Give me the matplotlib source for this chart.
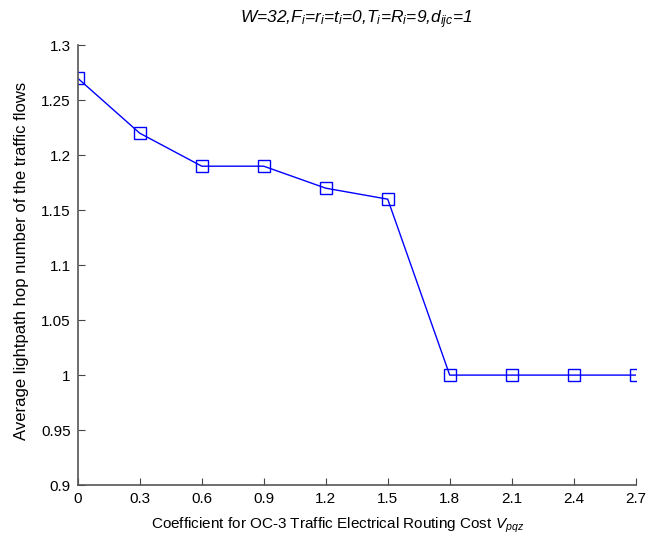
import matplotlib
matplotlib.use("Agg")
import matplotlib.pyplot as plt

x = [0, 0.3, 0.6, 0.9, 1.2, 1.5, 1.8, 2.1, 2.4, 2.7]
y = [1.27, 1.22, 1.19, 1.19, 1.17, 1.16, 1.0, 1.0, 1.0, 1.0]
xticks = [0, 0.3, 0.6, 0.9, 1.2, 1.5, 1.8, 2.1, 2.4, 2.7]
xtick_labels = ["0", "0.3", "0.6", "0.9", "1.2", "1.5", "1.8", "2.1", "2.4", "2.7"]
yticks = [0.9, 0.95, 1.0, 1.05, 1.1, 1.15, 1.2, 1.25, 1.3]
ytick_labels = ["0.9", "0.95", "1", "1.05", "1.1", "1.15", "1.2", "1.25", "1.3"]

plt.rcParams['font.family'] = ['Liberation Sans', 'DejaVu Sans']
plt.rcParams['mathtext.fontset'] = 'custom'
plt.rcParams['mathtext.it'] = 'Liberation Sans:italic'
plt.rcParams['mathtext.rm'] = 'Liberation Sans'

fig = plt.figure(figsize=(6.48, 5.45), dpi=100)
ax = fig.add_axes([0.120, 0.110, 0.861, 0.807])
ax.plot(x, y, color='#0000ff', lw=1.0, marker='s', markersize=8,
        markerfacecolor='none', markeredgecolor='#0000ff', markeredgewidth=1.0)
ax.set_xlim(0, 2.7)
ax.set_ylim(0.9, 1.3)
ax.set_xticks(xticks)
ax.set_xticklabels(xtick_labels)
ax.set_yticks(yticks)
ax.set_yticklabels(ytick_labels)
ax.tick_params(direction='in', length=5, labelsize=11, pad=5, color='#444444')
ax.spines['top'].set_visible(False)
ax.spines['right'].set_visible(False)
for s in ['left', 'bottom']:
    ax.spines[s].set_color('#555555')
    ax.spines[s].set_linewidth(1.2)
ax.set_xlabel(r'Coefficient for OC-3 Traffic Electrical Routing Cost $V_{pqz}$', fontsize=11)
ax.xaxis.set_label_coords(0.465, -0.07)
ax.set_ylabel('Average lightpath hop number of the traffic flows', fontsize=12)
ax.yaxis.set_label_coords(-0.088, 0.51)
ax.set_title(r'$W$=32,$F_i$=$r_i$=$t_i$=0,$T_i$=$R_i$=9,$d_{ijc}$=1',
             fontsize=12.5, fontstyle='italic', pad=16)
fig.savefig('out.png', dpi=100)
